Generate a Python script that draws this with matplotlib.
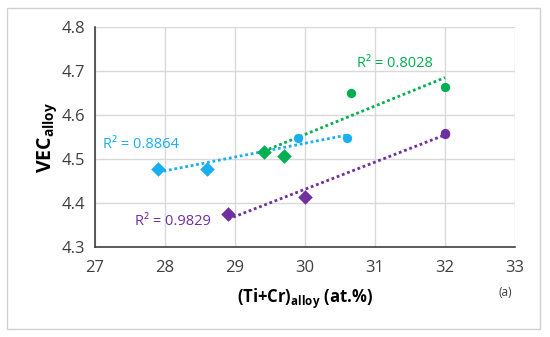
import numpy as np
import matplotlib.pyplot as plt
from matplotlib.patches import Rectangle

plt.rcParams['font.family'] = ['Open Sans', 'DejaVu Sans']
plt.rcParams['mathtext.fontset'] = 'custom'
plt.rcParams['mathtext.rm'] = 'Open Sans'
plt.rcParams['mathtext.bf'] = 'Open Sans:bold'

cyan_dia_x = [27.9, 28.6]
cyan_dia_y = [4.477, 4.477]
cyan_dot_x = [29.9, 30.6]
cyan_dot_y = [4.548, 4.547]

green_dia_x = [29.41, 29.7]
green_dia_y = [4.517, 4.506]
green_dot_x = [30.65, 32.0]
green_dot_y = [4.651, 4.663]

purple_dia_x = [28.9, 30.0]
purple_dia_y = [4.375, 4.413]
purple_dot_x = [32.0, 32.0]
purple_dot_y = [4.560, 4.556]

r2_labels = ['R² = 0.8864', 'R² = 0.8028', 'R² = 0.9829']

c_cyan = '#1AAFEF'
c_green = '#00B050'
c_purple = '#7030A0'

fig = plt.figure(figsize=(5.5, 3.37), dpi=100)
fig.patches.append(Rectangle((7/550, 1-329/337), 533/550, 321/337, transform=fig.transFigure,
                             fill=False, edgecolor='#d0d0d0', lw=1))
ax = fig.add_axes([95/550, 1-247/337, 420/550, 220/337])

series = [
    (cyan_dia_x, cyan_dia_y, cyan_dot_x, cyan_dot_y, c_cyan),
    (green_dia_x, green_dia_y, green_dot_x, green_dot_y, c_green),
    (purple_dia_x, purple_dia_y, purple_dot_x, purple_dot_y, c_purple),
]
for dx, dy, cx, cy, col in series:
    xs = np.array(dx + cx)
    ys = np.array(dy + cy)
    k, b = np.polyfit(xs, ys, 1)
    xl = np.array([xs.min(), xs.max()])
    ax.plot(xl, k * xl + b, ls=(0, (1, 1)), color=col, lw=2, zorder=2)
    ax.scatter(dx, dy, marker='D', s=55, color=col, zorder=3, linewidths=0)
    ax.scatter(cx, cy, marker='o', s=45, color=col, zorder=3, linewidths=0)

ax.text(27.11, 4.533, r2_labels[0], color=c_cyan, fontsize=10.5, va='center')
ax.text(30.74, 4.718, r2_labels[1], color=c_green, fontsize=10.5, va='center')
ax.text(27.57, 4.357, r2_labels[2], color=c_purple, fontsize=10.5, va='center')

ax.set_xlim(27, 33)
ax.set_ylim(4.3, 4.8)
ax.set_xticks(range(27, 34))
ax.set_yticks([4.3, 4.4, 4.5, 4.6, 4.7, 4.8])
ax.set_yticklabels(['4.3', '4.4', '4.5', '4.6', '4.7', '4.8'])
ax.grid(True, color='#d9d9d9', lw=1)
ax.set_axisbelow(True)
for s in ['top', 'right']:
    ax.spines[s].set_visible(False)
for s in ['left', 'bottom']:
    ax.spines[s].set_color('#404040')
    ax.spines[s].set_linewidth(1.2)
ax.tick_params(length=0, labelsize=12, colors='#404040', pad=9)
ax.tick_params(axis='y', pad=7)

ax.set_xlabel(r'(Ti+Cr)$_{\mathbf{alloy}}$ (at.%)', fontsize=12, fontweight='bold', labelpad=8)
ax.set_ylabel(r'VEC$_{\mathbf{alloy}}$', fontsize=14, fontweight='bold', labelpad=2)
fig.text(505/550, 1-292/337, '(a)', fontsize=8.5, ha='center', va='center', color='#404040')

fig.savefig('out.png', dpi=100)
